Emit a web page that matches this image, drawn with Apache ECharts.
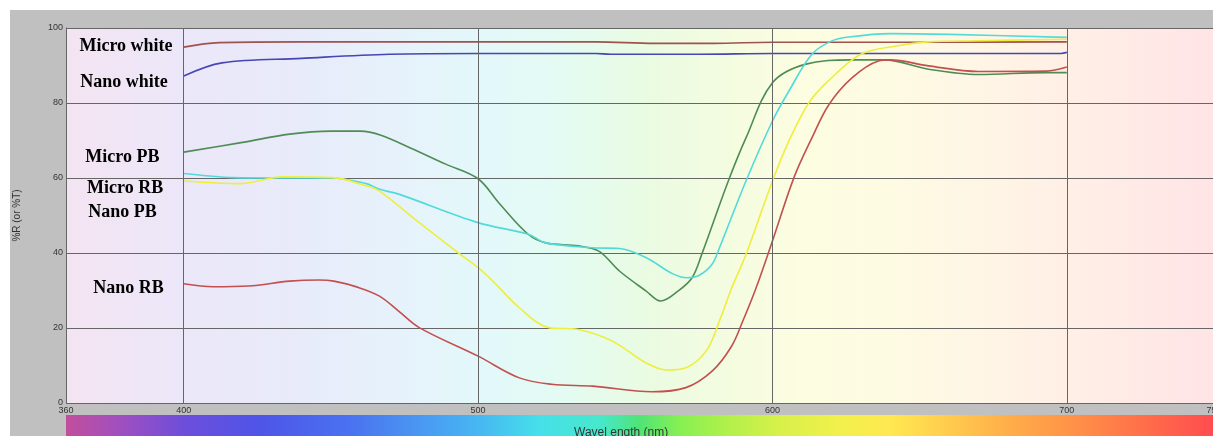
<!DOCTYPE html>
<html><head><meta charset="utf-8">
<script src="https://cdn.jsdelivr.net/npm/echarts@6/dist/echarts.min.js"></script>
<style>html,body{margin:0;padding:0;background:#fff}#c{width:1213px;height:436px}</style>
</head><body><div id="c"></div>
<script>
// ---- data ----
const xLabelValues = [360, 400, 500, 600, 700, 750];
const xGridValues = [400, 500, 600, 700];
const seriesNames = ['Micro white', 'Nano white', 'Micro PB', 'Micro RB', 'Nano PB', 'Nano RB'];

const microWhite = [[400,94.9],[412,96.1],[440,96.3],[500,96.3],[540,96.3],[560,95.9],[580,95.9],[600,96.2],[650,96.2],[700,96.3]];
const nanoWhite = [[400,87.2],[413,90.7],[440,91.9],[470,93],[500,93.2],[540,93.2],[545,93],[575,93],[600,93.2],[650,93.2],[698,93.2],[700,93.5]];
const microPB = [[400,66.9],[420,69.5],[436,71.7],[450,72.5],[460,72.5],[467,71.4],[477,68],[489,63.7],[500,59.8],[507,53.4],[517,45],[523,42.7],[534,41.9],[541,40.5],[548,35.2],[557,29.9],[562,27.2],[568,29.9],[572.7,33.4],[576,39.7],[585,59.2],[591,70.7],[600,85.4],[611,90.3],[627,91.5],[638,91.5],[653,89],[670,87.6],[693,88.1],[700,88.1]];
const microRB = [[400,61.2],[417,60.1],[430,60],[450,60],[462,58.5],[466.5,57],[473,55.7],[500,48.1],[517,45],[523,42.7],[539,41.4],[548,41.2],[557,38.8],[566,34.5],[571,33.4],[575,34],[579.5,37],[582,41.4],[591,59.2],[600,75.2],[605.6,83.2],[613.4,93],[620,96.5],[626,97.6],[640,98.5],[660,98.3],[700,97.5]];
const nanoPB = [[400,59.2],[419,58.5],[433.6,60.3],[450.6,60.1],[462,57.9],[466.5,56.5],[480,48.1],[494,39.6],[500,36.1],[505,32.5],[514,25.4],[524,20.1],[534,19.6],[545.6,16.5],[557,10.7],[564,8.8],[570.6,9.4],[577.5,13.9],[582,21.9],[586,30.4],[591,39.6],[600,59.2],[605.6,69.9],[612.4,80.1],[619,85.9],[630,93],[642,95.2],[653,96.3],[670,96.6],[700,97]];
const nanoRB = [[400,31.8],[410,31],[422,31.2],[436,32.5],[446,32.8],[451,32.5],[459,30.9],[466.5,28.5],[473,24.5],[480,20.1],[500,12.5],[514,6.7],[525,5],[539,4.5],[559,3],[570.6,4.1],[579.5,8.5],[586,15],[590,22],[594.3,30.4],[600,43.2],[607.3,60.1],[613.4,70.7],[619.2,79.6],[627,86.7],[636,91.2],[640,91.5],[653,89.9],[670,88.4],[693,88.5],[700,89.6]];

const labelAnchors = [[364.4,95.2],[364.7,85.5],[366.4,65.6],[367,57.2],[367.4,50.9],[369.1,30.7]];

// ---- styles ----
const seriesData = [microWhite, nanoWhite, microPB, microRB, nanoPB, nanoRB];
const seriesColors = ['#a0524f', '#4646b4', '#4f8c55', '#52dada', '#eeee3c', '#c2504e'];

const chart = echarts.init(document.getElementById('c'), null, {renderer: 'canvas'});

const plotBg = new echarts.graphic.LinearGradient(0, 0, 1, 0, [
  {offset: 0, color: '#f4e4f2'}, {offset: 0.103, color: '#ebe7f9'}, {offset: 0.204, color: '#e8ebfa'},
  {offset: 0.291, color: '#e6f2fb'}, {offset: 0.361, color: '#e3f8fa'}, {offset: 0.43, color: '#e3fbf3'},
  {offset: 0.5, color: '#e9fbe3'}, {offset: 0.57, color: '#f3fce0'}, {offset: 0.639, color: '#fcfde1'},
  {offset: 0.726, color: '#fefae3'}, {offset: 0.814, color: '#fff4e5'}, {offset: 0.9, color: '#ffede6'},
  {offset: 1, color: '#ffe4e6'}
]);
const spectrum = new echarts.graphic.LinearGradient(0, 0, 1, 0, [
  {offset: 0, color: '#c24e9c'}, {offset: 0.047, color: '#a04fbf'}, {offset: 0.103, color: '#6d4edb'},
  {offset: 0.169, color: '#4e55e8'}, {offset: 0.248, color: '#4a72f0'}, {offset: 0.309, color: '#4a98f2'},
  {offset: 0.361, color: '#47b8f2'}, {offset: 0.413, color: '#46e0ea'}, {offset: 0.466, color: '#46e8cc'},
  {offset: 0.5, color: '#50e476'}, {offset: 0.535, color: '#86f052'}, {offset: 0.579, color: '#b4f04a'},
  {offset: 0.622, color: '#d8f04a'}, {offset: 0.675, color: '#f2f04c'}, {offset: 0.718, color: '#ffe850'},
  {offset: 0.762, color: '#ffd04e'}, {offset: 0.814, color: '#ffb24a'}, {offset: 0.874, color: '#ff9448'},
  {offset: 0.945, color: '#ff6c4a'}, {offset: 1, color: '#ff4c50'}
]);

const lineSeries = seriesNames.map((n, i) => ({
  name: n, type: 'line', data: seriesData[i], smooth: 0.35, symbol: 'none',
  lineStyle: {color: seriesColors[i], width: 1.6}, z: 3
}));

lineSeries.push({
  name: 'grid', type: 'line', data: [], silent: true,
  markLine: {
    silent: true, symbol: ['none', 'none'], label: {show: false}, animation: false,
    lineStyle: {color: '#666', width: 1, type: 'solid'},
    data: xGridValues.map(v => ({xAxis: v}))
  }, z: 1
});

lineSeries.push({
  name: 'labels', type: 'scatter', symbolSize: 1, itemStyle: {color: 'rgba(0,0,0,0)'}, silent: true,
  data: seriesNames.map((n, i) => ({name: n, value: labelAnchors[i]})),
  label: {
    show: true, position: 'right', distance: 0, formatter: '{b}',
    fontFamily: 'Liberation Serif', fontWeight: 'bold', fontSize: 18, color: '#000', opacity: 1
  }, z: 4
});

chart.setOption({
  animation: false,
  backgroundColor: '#c0c0c0',
  grid: {left: 66, top: 28, right: -1, bottom: 33, show: true, backgroundColor: plotBg, borderWidth: 0,
         containLabel: false, outerBoundsMode: 'none'},
  xAxis: {
    type: 'value', min: 360, max: 750, interval: 10,
    axisLine: {show: false}, axisTick: {show: false}, splitLine: {show: false},
    axisLabel: {
      margin: 3, fontSize: 9, color: '#333', fontFamily: 'Liberation Sans',
      formatter: v => xLabelValues.includes(v) ? String(v) : ''
    }
  },
  yAxis: {
    type: 'value', min: 0, max: 100, interval: 20,
    name: '%R (or %T)', nameLocation: 'middle', nameGap: 44,
    nameTextStyle: {fontSize: 10, color: '#333', fontFamily: 'Liberation Sans'},
    axisLine: {show: true, lineStyle: {color: '#666', width: 1}},
    axisTick: {show: false},
    splitLine: {show: true, lineStyle: {color: '#666', width: 1}},
    axisLabel: {margin: 3, fontSize: 9, color: '#333', fontFamily: 'Liberation Sans'}
  },
  graphic: [
    {type: 'rect', shape: {x: 0, y: 0, width: 1213, height: 10}, style: {fill: '#fff'}, silent: true},
    {type: 'rect', shape: {x: 0, y: 0, width: 10, height: 436}, style: {fill: '#fff'}, silent: true},
    {type: 'rect', shape: {x: 66, y: 415, width: 1147, height: 21}, style: {fill: spectrum}, silent: true},
    {type: 'text', left: 574, top: 427, silent: true,
     style: {text: 'Wavel ength (nm)', fontSize: 12, fill: '#333', fontFamily: 'Liberation Sans'}}
  ],
  series: lineSeries
});
</script></body></html>
